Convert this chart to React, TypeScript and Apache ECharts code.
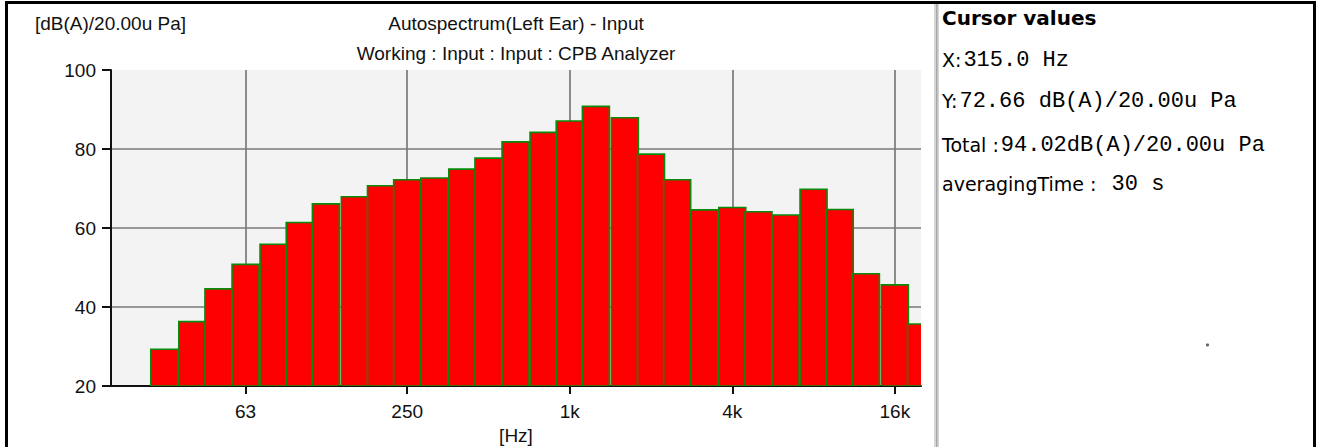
import React, { useEffect, useRef } from "react";
import * as echarts from "echarts";

// 1/3-octave band centre frequencies (Hz) and levels (dB(A))
const bandFreqs = [31.5, 40, 50, 63, 80, 100, 125, 160, 200, 250, 315, 400, 500, 630, 800, 1000, 1250, 1600, 2000, 2500, 3150, 4000, 5000, 6300, 8000, 10000, 12500, 16000, 20000];
const bandLevels = [29.3, 36.3, 44.6, 50.8, 55.9, 61.4, 66.1, 67.9, 70.7, 72.2, 72.66, 74.9, 77.7, 81.8, 84.2, 87.1, 90.8, 87.9, 78.7, 72.2, 64.6, 65.2, 64.1, 63.3, 69.8, 64.7, 48.4, 45.6, 35.7];

const xTickFreqs = [63, 250, 1000, 4000, 16000];
const xTickLabels = ["63", "250", "1k", "4k", "16k"];
const xRange = [20, 20000];
const yMin = 20;
const yMax = 100;
const yStep = 20;

const titleText = "Autospectrum(Left Ear) - Input";
const subtitleText = "Working : Input : Input : CPB Analyzer";
const yUnitText = "[dB(A)/20.00u Pa]";
const xUnitText = "[Hz]";

const cursorTitle = "Cursor values";
const cursorLines = [
  ["X:", "315.0 Hz"],
  ["Y:", "72.66 dB(A)/20.00u Pa"],
  ["Total :", "94.02dB(A)/20.00u Pa"],
  ["averagingTime :", " 30 s"],
];

const toBand = (f: number) => 10 * Math.log10(f);

const SANS = "'Liberation Sans', Arial, sans-serif";
const PANEL_SANS = "'DejaVu Sans', Verdana, sans-serif";
const MONO = "'Liberation Mono', 'DejaVu Sans Mono', monospace";

export default function App() {
  const ref = useRef<HTMLDivElement>(null);

  useEffect(() => {
    if (!ref.current) return;
    const chart = echarts.init(ref.current, undefined, { renderer: "svg" });

    const tickBands = xTickFreqs.map(toBand);
    const lineYs = [60, 101, 145, 184];

    const option: any = {
      animation: false,
      backgroundColor: "#ffffff",
      grid: {
        left: 111,
        top: 70,
        width: 810,
        height: 316,
        show: true,
        backgroundColor: "#f3f3f3",
        borderWidth: 0,
      },
      xAxis: {
        type: "value",
        min: toBand(xRange[0]),
        max: toBand(xRange[1]),
        axisLine: { show: true, lineStyle: { color: "#111", width: 2 } },
        axisTick: {
          show: true,
          length: 8,
          inside: false,
          customValues: tickBands,
          lineStyle: { color: "#111", width: 2 },
        },
        axisLabel: {
          customValues: tickBands,
          margin: 16,
          fontSize: 19,
          fontFamily: SANS,
          color: "#111",
          formatter: (val: number) => {
            const i = tickBands.findIndex((b) => Math.abs(b - val) < 1e-6);
            return i >= 0 ? xTickLabels[i] : "";
          },
        },
        splitLine: {
          show: true,
          lineStyle: { color: "#7a7a7a", width: 1.7 },
        },
      },
      yAxis: {
        type: "value",
        min: yMin,
        max: yMax,
        interval: yStep,
        axisLine: { show: true, lineStyle: { color: "#111", width: 2 } },
        axisTick: { show: true, length: 9, inside: false, lineStyle: { color: "#111", width: 2 } },
        axisLabel: { margin: 15, fontSize: 19, fontFamily: SANS, color: "#111" },
        splitLine: {
          show: true,
          showMinLine: false,
          showMaxLine: false,
          lineStyle: { color: "#7a7a7a", width: 1.7 },
        },
      },
      series: [
        {
          type: "custom",
          clip: true,
          data: bandFreqs.map((f, i) => [toBand(f), bandLevels[i]]),
          renderItem: (params: any, api: any) => {
            const x = api.value(0);
            const v = api.value(1);
            const p0 = api.coord([x - 0.5, v]);
            const p1 = api.coord([x + 0.5, yMin]);
            return {
              type: "rect",
              shape: { x: p0[0], y: p0[1], width: p1[0] - p0[0], height: p1[1] - p0[1] },
              style: { fill: "#ff0000", stroke: "#0a8a0a", lineWidth: 1.6 },
            };
          },
        },
      ],
      graphic: [
        // frame
        { type: "rect", shape: { x: 5, y: 1, width: 1311, height: 3 }, style: { fill: "#000" } },
        { type: "rect", shape: { x: 5, y: 1, width: 3, height: 446 }, style: { fill: "#000" } },
        { type: "rect", shape: { x: 1313, y: 1, width: 3, height: 446 }, style: { fill: "#000" } },
        // separator
        { type: "rect", shape: { x: 934, y: 4, width: 5, height: 443 }, style: { fill: "#d6d6d6" } },
        { type: "rect", shape: { x: 936, y: 4, width: 1.5, height: 443 }, style: { fill: "#a8a8a8" } },
        // plot texts
        {
          type: "text",
          x: 516,
          y: 23,
          style: { text: titleText, font: `19px ${SANS}`, fill: "#111", align: "center", verticalAlign: "middle" },
        },
        {
          type: "text",
          x: 516,
          y: 53,
          style: { text: subtitleText, font: `19px ${SANS}`, fill: "#111", align: "center", verticalAlign: "middle" },
        },
        {
          type: "text",
          x: 35,
          y: 23,
          style: { text: yUnitText, font: `19px ${SANS}`, fill: "#111", align: "left", verticalAlign: "middle" },
        },
        {
          type: "text",
          x: 516,
          y: 435,
          style: { text: xUnitText, font: `19px ${SANS}`, fill: "#111", align: "center", verticalAlign: "middle" },
        },
        // cursor panel
        {
          type: "text",
          x: 942,
          y: 18,
          style: {
            text: cursorTitle,
            font: `bold 20px ${PANEL_SANS}`,
            fill: "#000",
            align: "left",
            verticalAlign: "middle",
          },
        },
        ...cursorLines.map((ln, i) => ({
          type: "text",
          x: 942,
          y: lineYs[i],
          style: {
            text: `{s|${ln[0]}}{m|${ln[1]}}`,
            align: "left",
            verticalAlign: "middle",
            rich: {
              s: { fontFamily: PANEL_SANS, fontSize: 19, fill: "#000", color: "#000", padding: [0, 2, 0, 0] },
              m: { fontFamily: MONO, fontSize: 22, fill: "#000", color: "#000" },
            },
          },
        })),
        { type: "circle", shape: { cx: 1207.5, cy: 345, r: 1.6 }, style: { fill: "#666" } },
      ],
    };

    chart.setOption(option);
    return () => chart.dispose();
  }, []);

  return (
    <div
      ref={ref}
      style={{ position: "fixed", left: 0, top: 0, width: 1317, height: 447, background: "#fff" }}
    />
  );
}
